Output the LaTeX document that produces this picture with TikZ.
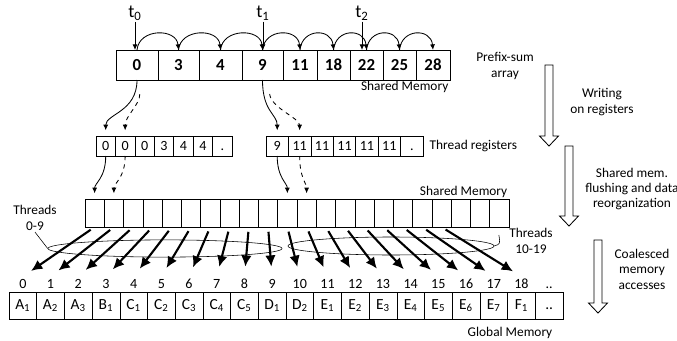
\documentclass[tikz,border=0pt]{standalone}
\usepackage{fontspec}
\setmainfont{Carlito}
\usetikzlibrary{arrows.meta,shapes.geometric,calc}

% hollow block arrow: x, y top, y tip
\newcommand\flowarrow[3]{%
  \draw[semithick] ({#1-4},#2) -- ({#1+4},#2) -- ({#1+4},{#3-10}) -- ({#1+9.5},{#3-10})
    -- (#1,#3) -- ({#1-9.5},{#3-10}) -- ({#1-4},{#3-10}) -- cycle;}

\tikzset{
  topcell/.style={draw, inner sep=0pt, outer sep=0pt, minimum height=0.75cm,
    font=\fontsize{12}{14}\selectfont\bfseries},
  regcell/.style={draw, inner sep=0pt, outer sep=0pt, minimum height=0.5cm,
    text height=1.5ex, text depth=0.2ex, font=\fontsize{10}{12}\selectfont},
  smcell/.style={draw, inner sep=0pt, outer sep=0pt, minimum width=0.4818cm, minimum height=0.7cm},
  gmcell/.style={draw, inner sep=0pt, outer sep=0pt, minimum width=0.6925cm, minimum height=0.675cm,
    text height=1.6ex, text depth=0.5ex, font=\fontsize{11}{13}\selectfont},
  idx/.style={inner sep=1pt, text height=1.5ex, text depth=0.2ex, font=\fontsize{10}{12}\selectfont},
  lbl/.style={inner sep=1pt, font=\fontsize{9.5}{11}\selectfont},
  tlbl/.style={inner sep=1pt, font=\fontsize{13}{15}\selectfont},
  ptr/.style={semithick, -{Latex[length=4pt,width=3.5pt]}},
  fan/.style={line width=1.5pt, -{Latex[length=8pt,width=7.5pt]}, shorten <=0.12cm, shorten >=0.25cm},
  group/.style={draw, thin, ellipse, inner sep=0pt}
}

\begin{document}
\begin{tikzpicture}[x=0.025cm, y=-0.025cm]
\useasboundingbox (0,0) rectangle (677,341);

% prefix-sum array in shared memory
\foreach \v/\l/\r in {0/116/158,3/158/199,4/199/242,9/242/283,11/283/317,18/317/350,22/350/383,25/383/416,28/416/450}
  \node[topcell, minimum width={(\r-\l)*0.025cm}] (p\v) at ({(\l+\r)/2},65) {\v};
\foreach \a/\b in {0/3,3/4,4/9,9/11,11/18,18/22,22/25,25/28}
  \draw[ptr] (p\a.north) .. controls +(2,-22) and +(-2,-22) .. (p\b.north);

\node[tlbl] (t0) at (135,13) {t\textsubscript{0}};
\node[tlbl] (t1) at (263,13) {t\textsubscript{1}};
\node[tlbl] (t2) at (362,13) {t\textsubscript{2}};
\foreach \t in {t0,t1,t2}
  \draw[ptr] (\t.south) -- (\t.south |- p0.north);

\node[lbl, align=center] (psa) at (505,66) {Prefix-sum\\array};
\node[lbl, anchor=north east] (sm1lbl) at (p28.south east) {Shared Memory};

% thread registers
\foreach \v [count=\i] in {0,0,0,3,4,4,.}
  \node[regcell, minimum width=0.4857cm] (ra\i) at ({96+19.43*(\i-0.5)},146) {\v};
\foreach \v [count=\i] in {9,11,11,11,11,11,.}
  \node[regcell, minimum width=0.5607cm] (rb\i) at ({266+22.43*(\i-0.5)},146) {\v};
\node[lbl, anchor=west] (treg) at (428,146) {Thread registers};

\draw[ptr, shorten >=4pt] (p0.south) .. controls +(0,32) and +(0,-22) .. (ra1.north);
\draw[ptr, dashed, shorten <=10pt, shorten >=4pt] ([xshift=2pt]p0.south) .. controls +(0,25) and +(0,-20) .. (ra2.north);
\draw[ptr, shorten >=4pt] (p9.south) .. controls +(0,32) and +(0,-22) .. (rb1.north);
\draw[ptr, dashed, shorten <=10pt, shorten >=4pt] ([xshift=4pt]p9.south) .. controls +(3,28) and +(0,-18) .. (rb2.north);

% shared memory row
\foreach \i in {0,...,21}
  \node[smcell] (sm\i) at ({85+19.27*(\i+0.5)},213) {};
\node[lbl, anchor=south east] (sm2lbl) at (sm21.north east) {Shared Memory};

\draw[ptr, shorten >=4pt] (ra1.south) .. controls +(0,22) and +(0,-16) .. (sm0.north);
\draw[ptr, dashed, shorten >=4pt] (ra2.south) .. controls +(0,22) and +(0,-16) .. (sm1.north);
\draw[ptr, shorten >=4pt] (rb1.south) .. controls +(0,22) and +(0,-16) .. (sm10.north);
\draw[ptr, dashed, shorten >=4pt] (rb2.south) .. controls +(0,22) and +(0,-16) .. (sm11.north);

% global memory
\foreach \l/\s [count=\i from 0] in {A/1,A/2,A/3,B/1,C/1,C/2,C/3,C/4,C/5,D/1,D/2,E/1,E/2,E/3,E/4,E/5,E/6,E/7,F/1}
  \node[gmcell] (gm\i) at ({9+27.7*(\i+0.5)},305.5) {\l\textsubscript{\s}};
\node[gmcell] (gm19) at ({9+27.7*19.5},305.5) {..};
\foreach \i in {0,...,19}
  \node[idx] (ix\i) at ($(gm\i.north)+(0,-8)$) {\ifnum\i=19 ..\else\i\fi};
\node[lbl] (gmlbl) at (510,333) {Global Memory};

% thread groups
\node[group, minimum width=5.85cm, minimum height=0.43cm] (g1) at (165,248.5) {};
\node[group, minimum width=5.15cm, minimum height=0.45cm] (g2) at (391,246) {};
\node[lbl, align=center] (th1) at (35,218) {Threads\\0-9};
\node[lbl, align=center] (th2) at (531,241) {Threads\\10-19};
\draw[thin] (th1.south) -- (g1.west);
\draw[thin] (g2.east) .. controls +(6,-2) .. ([shift={(-0.22cm,0.15cm)}]th2.west);

\foreach \i in {0,...,18}
  \draw[fan] (sm\i.south) -- (ix\i.north);

% steps
\flowarrow{549}{65}{146}
\flowarrow{569}{146}{226}
\flowarrow{598}{240}{313}
\node[lbl, align=center] (stepA) at (602,102) {Writing\\on registers};
\node[lbl, align=center] (stepB) at (632,189) {Shared mem.\\flushing and data\\reorganization};
\node[lbl, align=center] (stepC) at (642,269) {Coalesced\\memory\\accesses};
\end{tikzpicture}
\end{document}
